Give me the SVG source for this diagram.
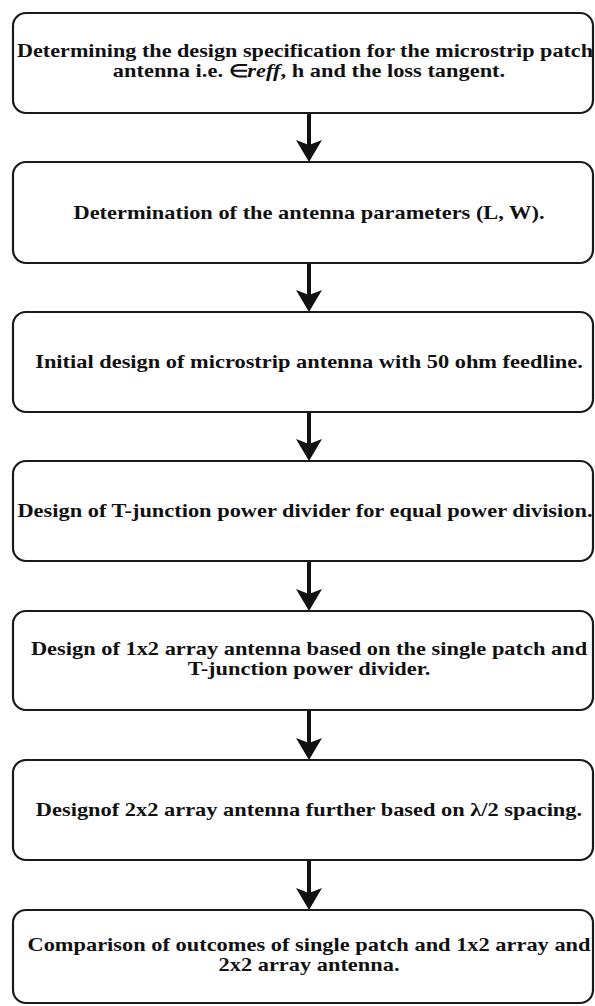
<svg xmlns="http://www.w3.org/2000/svg" width="595" height="1006" viewBox="0 0 595 1006">
<style>
.box{fill:#fff;stroke:#1a1a1a;stroke-width:2.2}
.t{font-family:"Liberation Serif","Times New Roman",serif;font-weight:bold;font-size:18px;fill:#111;text-anchor:middle}
.m{font-style:italic}
.shaft{stroke:#111;stroke-width:4;fill:none}
.head{fill:#111;stroke:none}
</style>
<defs>
<path id="ah" class="head" d="M0,0 L-13,-22 L0,-17 L13,-22 Z"/>
</defs>
<rect width="595" height="1006" fill="#fff"/>
<g id="connectors">
<line class="shaft" x1="309" y1="113" x2="309" y2="147"/><use href="#ah" x="309" y="162"/>
<line class="shaft" x1="309" y1="263" x2="309" y2="297"/><use href="#ah" x="309" y="312"/>
<line class="shaft" x1="309" y1="412" x2="309" y2="446"/><use href="#ah" x="309" y="461"/>
<line class="shaft" x1="309" y1="561" x2="309" y2="596"/><use href="#ah" x="309" y="611"/>
<line class="shaft" x1="309" y1="710" x2="309" y2="745"/><use href="#ah" x="309" y="760"/>
<line class="shaft" x1="309" y1="860" x2="309" y2="895"/><use href="#ah" x="309" y="910"/>
</g>
<g id="n1">
<rect class="box" x="13" y="13" width="580" height="100" rx="13"/>
<text class="t" transform="translate(305,57) scale(1.232,1)">Determining the design specification for the microstrip patch</text>
<text class="t" transform="translate(309,77) scale(1.245,1)">antenna i.e. ∈<tspan class="m">reff</tspan>, h and the loss tangent.</text>
</g>
<g id="n2">
<rect class="box" x="13" y="162" width="580" height="101" rx="13"/>
<text class="t" transform="translate(309,219) scale(1.245,1)">Determination of the antenna parameters (L, W).</text>
</g>
<g id="n3">
<rect class="box" x="13" y="312" width="580" height="100" rx="13"/>
<text class="t" transform="translate(309,368) scale(1.245,1)">Initial design of microstrip antenna with 50 ohm feedline.</text>
</g>
<g id="n4">
<rect class="box" x="13" y="461" width="580" height="100" rx="13"/>
<text class="t" transform="translate(305,517) scale(1.245,1)">Design of T-junction power divider for equal power division.</text>
</g>
<g id="n5">
<rect class="box" x="13" y="611" width="580" height="99" rx="13"/>
<text class="t" transform="translate(309,655) scale(1.245,1)">Design of 1x2 array antenna based on the single patch and</text>
<text class="t" transform="translate(309,675) scale(1.245,1)">T-junction power divider.</text>
</g>
<g id="n6">
<rect class="box" x="13" y="760" width="580" height="100" rx="13"/>
<text class="t" transform="translate(309,816) scale(1.245,1)">Designof 2x2 array antenna further based on λ/2 spacing.</text>
</g>
<g id="n7">
<rect class="box" x="13" y="910" width="580" height="93" rx="13"/>
<text class="t" transform="translate(309,951) scale(1.245,1)">Comparison of outcomes of single patch and 1x2 array and</text>
<text class="t" transform="translate(309,971) scale(1.245,1)">2x2 array antenna.</text>
</g>
</svg>
